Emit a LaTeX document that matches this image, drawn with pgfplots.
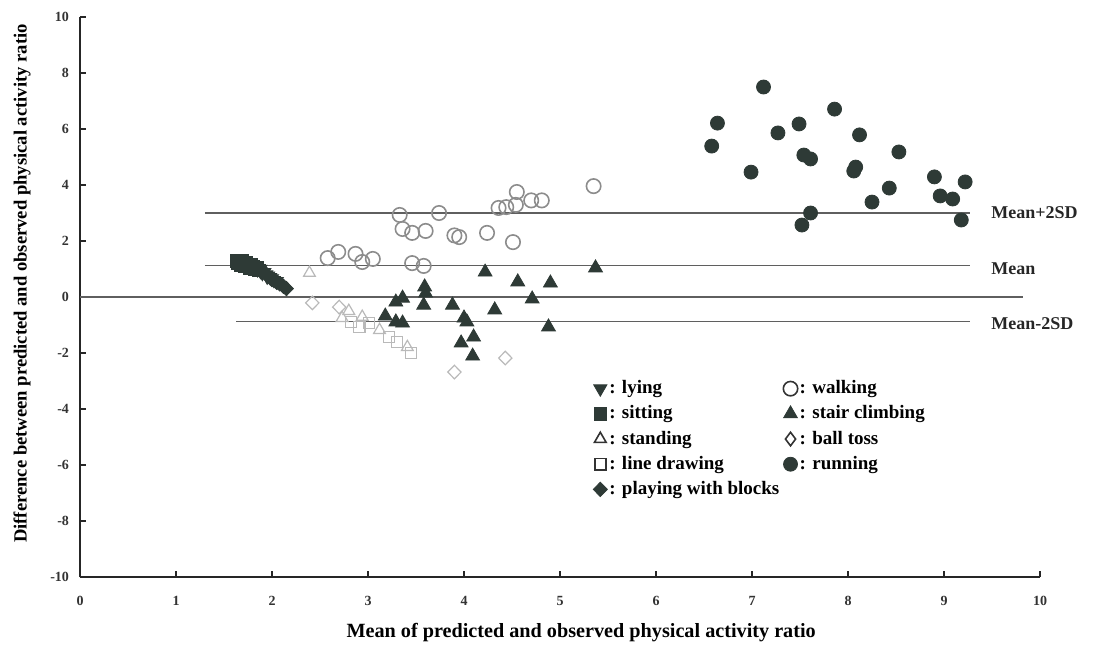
\documentclass[border=0pt]{standalone}
\usepackage{fontspec}
\setmainfont{Liberation Serif}
\usepackage{pgfplots}
\pgfplotsset{compat=1.18}
\definecolor{dk}{RGB}{46,58,54}
\definecolor{wk}{RGB}{140,140,140}
\definecolor{lt}{RGB}{185,185,185}
\definecolor{ln}{RGB}{95,95,95}
\begin{document}
\begin{tikzpicture}
\useasboundingbox (-40pt,-33.5pt) rectangle (507.5pt,288.5pt);
\begin{axis}[
  at={(0,0)}, anchor=south west,
  scale only axis, width=480pt, height=280pt,
  xmin=0, xmax=10, ymin=-10, ymax=10,
  axis lines*=left,
  axis line style={color=black!85, line width=0.9pt},
  xtick={0,1,...,10}, ytick={-10,-8,...,10},
  tick align=inside, major tick length=3pt,
  tick style={color=black!85, line width=0.7pt},
  /pgf/number format/assume math mode=true,
  ticklabel style={font=\bfseries\fontsize{7}{8}\selectfont, color=black!80},
  xticklabel style={yshift=-6pt},
  yticklabel style={xshift=-2pt},
  every axis x label/.style={at={(axis description cs:0.522,0)}, yshift=-28pt, anchor=center},
  every axis y label/.style={at={(axis description cs:0,0.524)}, xshift=-29pt, rotate=90, anchor=center},
  xlabel={\bfseries\fontsize{10.1}{11}\selectfont Mean of predicted and observed physical activity ratio},
  ylabel={\bfseries\fontsize{9.3}{11}\selectfont Difference between predicted and observed physical activity ratio},
  clip=false,
  legend columns=5, transpose legend,
  legend cell align=left,
  legend style={draw=none, fill=none, at={(axis cs:5.28,-2.72)}, anchor=north west,
    font=\bfseries\fontsize{9.5}{11}\selectfont, row sep=1.5pt,
    /tikz/column 2/.style={column sep=1pt},
    nodes={inner xsep=1pt, inner ysep=1.5pt}},
]
% reference lines
\addplot[ln, line width=0.8pt, forget plot] coordinates {(0,0) (9.82,0)};
\addplot[ln, line width=0.8pt, forget plot] coordinates {(1.30,3.0) (9.27,3.0)};
\addplot[ln, line width=0.8pt, forget plot] coordinates {(1.30,1.13) (9.27,1.13)};
\addplot[ln, line width=0.8pt, forget plot] coordinates {(1.63,-0.88) (9.27,-0.88)};
\node[anchor=west, font=\bfseries\fontsize{9}{10}\selectfont, text=black!85] at (axis cs:9.42,3.0) {Mean+2SD};
\node[anchor=west, font=\bfseries\fontsize{9}{10}\selectfont, text=black!85] at (axis cs:9.42,1.0) {Mean};
\node[anchor=west, font=\bfseries\fontsize{9}{10}\selectfont, text=black!85] at (axis cs:9.42,-0.95) {Mean-2SD};

% lying
\addplot[only marks, mark=triangle*, mark size=3.8pt, mark options={rotate=180, fill=dk, draw=dk}] coordinates {
(1.85,0.98) (1.88,0.92) (1.90,0.85) (1.92,0.88) (1.94,0.80) (1.96,0.76) (1.98,0.70) (2.00,0.66) (2.02,0.60) (2.05,0.56) (1.88,1.00) (1.95,0.72)};
\addlegendentry{: lying}
% sitting
\addplot[only marks, mark=square*, mark size=3.2pt, mark options={fill=dk, draw=dk}] coordinates {
(1.63,1.30) (1.64,1.20) (1.66,1.26) (1.67,1.15) (1.69,1.28) (1.70,1.20) (1.72,1.10) (1.73,1.22) (1.75,1.14) (1.77,1.05) (1.78,1.16) (1.80,1.08) (1.82,1.00) (1.84,1.05) (1.86,0.95)};
\addlegendentry{: sitting}
% standing
\addplot[only marks, mark=triangle, mark size=3.4pt, mark options={draw=lt, line width=0.6pt},
  legend image post style={mark options={draw=black!80, line width=0.8pt}}] coordinates {
(2.39,0.86) (2.73,-0.75) (2.94,-0.71) (3.12,-1.18) (3.41,-1.79) (2.80,-0.50)};
\addlegendentry{: standing}
% line drawing
\addplot[only marks, mark=square, mark size=2.8pt, mark options={draw=lt, line width=0.6pt},
  legend image post style={mark options={draw=black!80, line width=0.8pt}}] coordinates {
(2.82,-0.89) (3.01,-0.93) (2.91,-1.07) (3.22,-1.43) (3.45,-2.00) (3.30,-1.60)};
\addlegendentry{: line drawing}
% playing with blocks
\addplot[only marks, mark=diamond*, mark size=3.6pt, mark options={fill=dk, draw=dk, xscale=1.3}] coordinates {
(2.00,0.62) (2.05,0.52) (2.08,0.47) (2.12,0.38) (2.15,0.30)};
\addlegendentry{: playing with blocks}
% walking
\addplot[only marks, mark=o, mark size=3.6pt, mark options={draw=wk, line width=0.8pt},
  legend image post style={mark options={draw=black!80, line width=0.8pt}}] coordinates {
(2.58,1.39) (2.69,1.61) (2.87,1.54) (2.94,1.25) (3.05,1.36) (3.46,1.21) (3.58,1.11)
(3.33,2.93) (3.74,3.00) (3.36,2.43) (3.46,2.29) (3.60,2.36) (3.90,2.20) (3.95,2.14) (4.24,2.29) (4.51,1.96)
(4.36,3.18) (4.44,3.21) (4.54,3.29) (4.55,3.75) (4.70,3.45) (4.81,3.45) (5.35,3.96)};
\addlegendentry{: walking}
% stair climbing
\addplot[only marks, mark=triangle*, mark size=4pt, mark options={fill=dk, draw=dk}] coordinates {
(3.18,-0.68) (3.29,-0.18) (3.36,-0.04) (3.29,-0.89) (3.36,-0.93) (3.58,-0.29) (3.60,0.14) (3.59,0.36)
(3.88,-0.29) (4.00,-0.75) (4.03,-0.89) (3.97,-1.64) (4.10,-1.43) (4.09,-2.11) (4.22,0.89) (4.32,-0.46)
(4.56,0.54) (4.71,-0.07) (4.90,0.50) (4.88,-1.07) (5.37,1.04)};
\addlegendentry{: stair climbing}
% ball toss
\addplot[only marks, mark=diamond, mark size=3.4pt, mark options={draw=lt, line width=0.6pt, xscale=1.3},
  legend image post style={mark options={draw=black!80, line width=0.8pt}}] coordinates {
(2.42,-0.21) (2.70,-0.36) (3.90,-2.68) (4.43,-2.18)};
\addlegendentry{: ball toss}
% running
\addplot[only marks, mark=*, mark size=3.5pt, mark options={fill=dk, draw=dk}] coordinates {
(7.12,7.50) (6.64,6.21) (6.58,5.39) (7.27,5.86) (7.49,6.18) (6.99,4.46) (7.54,5.07) (7.61,4.93)
(7.61,3.00) (7.52,2.57) (7.86,6.71)
(8.12,5.79) (8.53,5.18) (8.08,4.64) (8.06,4.50) (8.43,3.89) (8.25,3.39) (8.90,4.29) (9.22,4.11)
(8.96,3.61) (9.09,3.50) (9.18,2.75)};
\addlegendentry{: running}
\end{axis}
\end{tikzpicture}
\end{document}
